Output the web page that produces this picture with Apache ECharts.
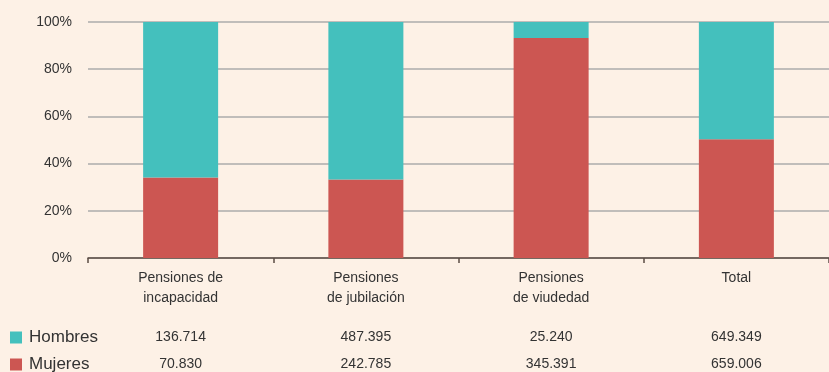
<!DOCTYPE html>
<html>
<head>
<meta charset="utf-8">
<script src="https://cdn.jsdelivr.net/npm/echarts@6/dist/echarts.min.js"></script>
<style>
  html, body { margin: 0; padding: 0; background: #fdf1e6; }
  #chart { width: 829px; height: 372px; }
</style>
</head>
<body>
<div id="chart"></div>
<script>
// Pension counts by type and sex
const categories = ['Pensiones de\nincapacidad', 'Pensiones\nde jubilación', 'Pensiones\nde viudedad', 'Total'];
const hombres = [136714, 487395, 25240, 649349];
const mujeres = [70830, 242785, 345391, 659006];
const yTicks = [0, 20, 40, 60, 80, 100];

const FONT = '"Liberation Sans", Arial, sans-serif';
const TEXT = '#333333';
const TEAL = '#44c0bd';
const RED = '#cc5652';

// Spanish thousands separator
function fmt(n) {
  return String(n).replace(/\B(?=(\d{3})+(?!\d))/g, '.');
}

const totals = hombres.map((h, i) => h + mujeres[i]);
const pctMujeres = mujeres.map((m, i) => m / totals[i] * 100);
const pctHombres = hombres.map((h, i) => h / totals[i] * 100);

const chart = echarts.init(document.getElementById('chart'), null, { renderer: 'canvas' });

// Extra category axes used as the value table under the chart
const tableAxis = (values, offset) => ({
  type: 'category',
  gridIndex: 0,
  position: 'bottom',
  offset: offset,
  data: values.map(fmt),
  axisLine: { show: false },
  axisTick: { show: false },
  splitLine: { show: false },
  axisLabel: {
    interval: 0,
    margin: 0,
    fontFamily: FONT,
    fontSize: 14,
    lineHeight: 14,
    color: TEXT
  }
});

// One legend per table row
const rowLegend = (name, top) => ({
  left: 10,
  top: top,
  data: [name],
  icon: 'rect',
  itemWidth: 12,
  itemHeight: 12,
  selectedMode: false,
  padding: 0,
  textStyle: { fontFamily: FONT, fontSize: 17, lineHeight: 17, color: TEXT, padding: [0, 0, 0, 2] }
});

chart.setOption({
  backgroundColor: '#fdf1e6',
  animation: false,
  textStyle: { fontFamily: FONT },
  grid: { left: 88, top: 22, width: 744, height: 236 },
  legend: [rowLegend('Hombres', 329), rowLegend('Mujeres', 356)],
  xAxis: [
    {
      type: 'category',
      data: categories,
      axisLine: { lineStyle: { color: '#5b4c44', width: 1.5 } },
      axisTick: { show: true, length: 5, lineStyle: { color: '#5b4c44', width: 1.5 } },
      axisLabel: {
        interval: 0,
        margin: 10,
        fontFamily: FONT,
        fontSize: 14,
        lineHeight: 20,
        color: TEXT
      }
    },
    tableAxis(hombres, 72),
    tableAxis(mujeres, 99)
  ],
  yAxis: {
    type: 'value',
    min: yTicks[0],
    max: yTicks[yTicks.length - 1],
    interval: 20,
    axisLine: { show: false },
    axisTick: { show: false },
    splitLine: { lineStyle: { color: '#ababab', width: 1.5 } },
    axisLabel: {
      formatter: '{value}%',
      margin: 16,
      fontFamily: FONT,
      fontSize: 14,
      color: TEXT
    }
  },
  series: [
    {
      name: 'Mujeres',
      type: 'bar',
      stack: 'total',
      xAxisIndex: 0,
      barWidth: 75,
      itemStyle: { color: RED },
      data: pctMujeres
    },
    {
      name: 'Hombres',
      type: 'bar',
      stack: 'total',
      xAxisIndex: 0,
      barWidth: 75,
      itemStyle: { color: TEAL },
      data: pctHombres
    }
  ]
});
</script>
</body>
</html>
